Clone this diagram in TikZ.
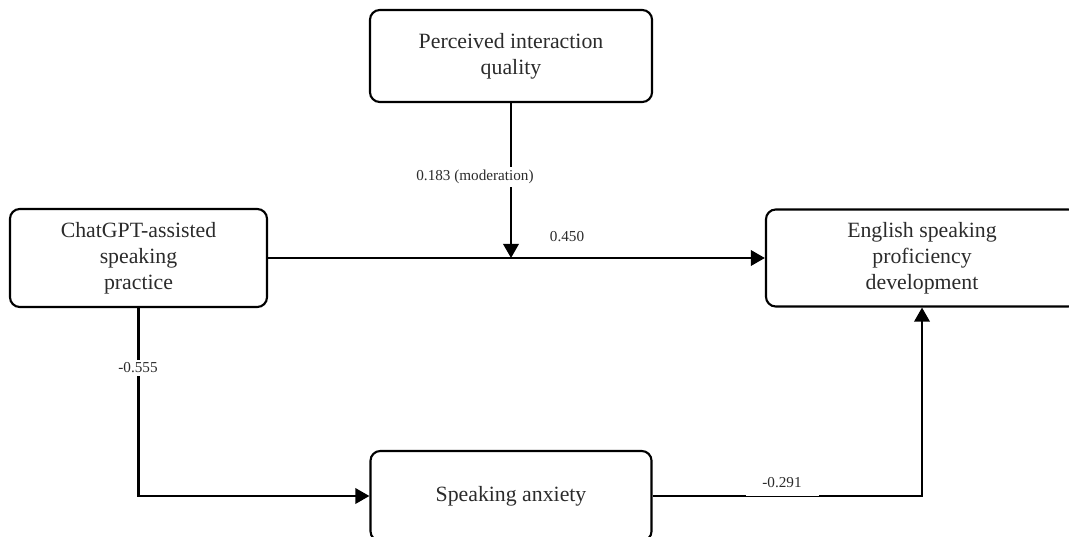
\documentclass[tikz,border=0pt]{standalone}
\usepackage{fontspec}
\setmainfont{Liberation Serif}
\usepackage{xcolor}
\usetikzlibrary{arrows.meta}
\definecolor{textColor}{HTML}{2B2B2B}

\begin{document}
\begin{tikzpicture}[x=0.025cm, y=-0.025cm,
    box/.style={draw, line width=1.5pt, rounded corners=7pt, align=center,
        text=textColor, font=\fontsize{15.5}{18.5}\selectfont},
    coef/.style={text=textColor, font=\fontsize{10.8}{12}\selectfont, inner sep=2pt},
    link/.style={line width=1.5pt, -{Triangle[length=10pt, width=11pt]}}]
    \clip (0,0) rectangle (1069,537);
    % boxes
    \node[box, minimum width=7.05cm, minimum height=2.3cm] (per) at (511,56)
        {Perceived interaction\\quality};
    \node[box, minimum width=6.425cm, minimum height=2.45cm] (gpt) at (138.5,258)
        {ChatGPT-assisted\\speaking\\practice};
    \node[box, minimum width=7.8cm, minimum height=2.425cm] (eng) at (922,258)
        {English speaking\\proficiency\\development};
    \node[box, minimum width=7.025cm, minimum height=2.25cm] (anx) at (511,496)
        {Speaking anxiety};
    % direct path
    \draw[link] (gpt.east) -- (eng.west);
    \node[coef] (c450) at (567,237) {0.450};
    % moderation
    \coordinate (mod) at (511,258);
    \draw[link] (per.south) -- (mod);
    \node[coef, fill=white] (c183) at (475,177) {0.183 (moderation)};
    % mediation
    \draw[link] (gpt.south) |- (anx.west);
    \node[coef, fill=white] (c555) at (138,368) {-0.555};
    \draw[link] (anx.east) -| (eng.south);
    \node[coef, fill=white, inner xsep=12pt, minimum height=18.6pt] (c291) at (782,483) {-0.291};
\end{tikzpicture}
\end{document}
